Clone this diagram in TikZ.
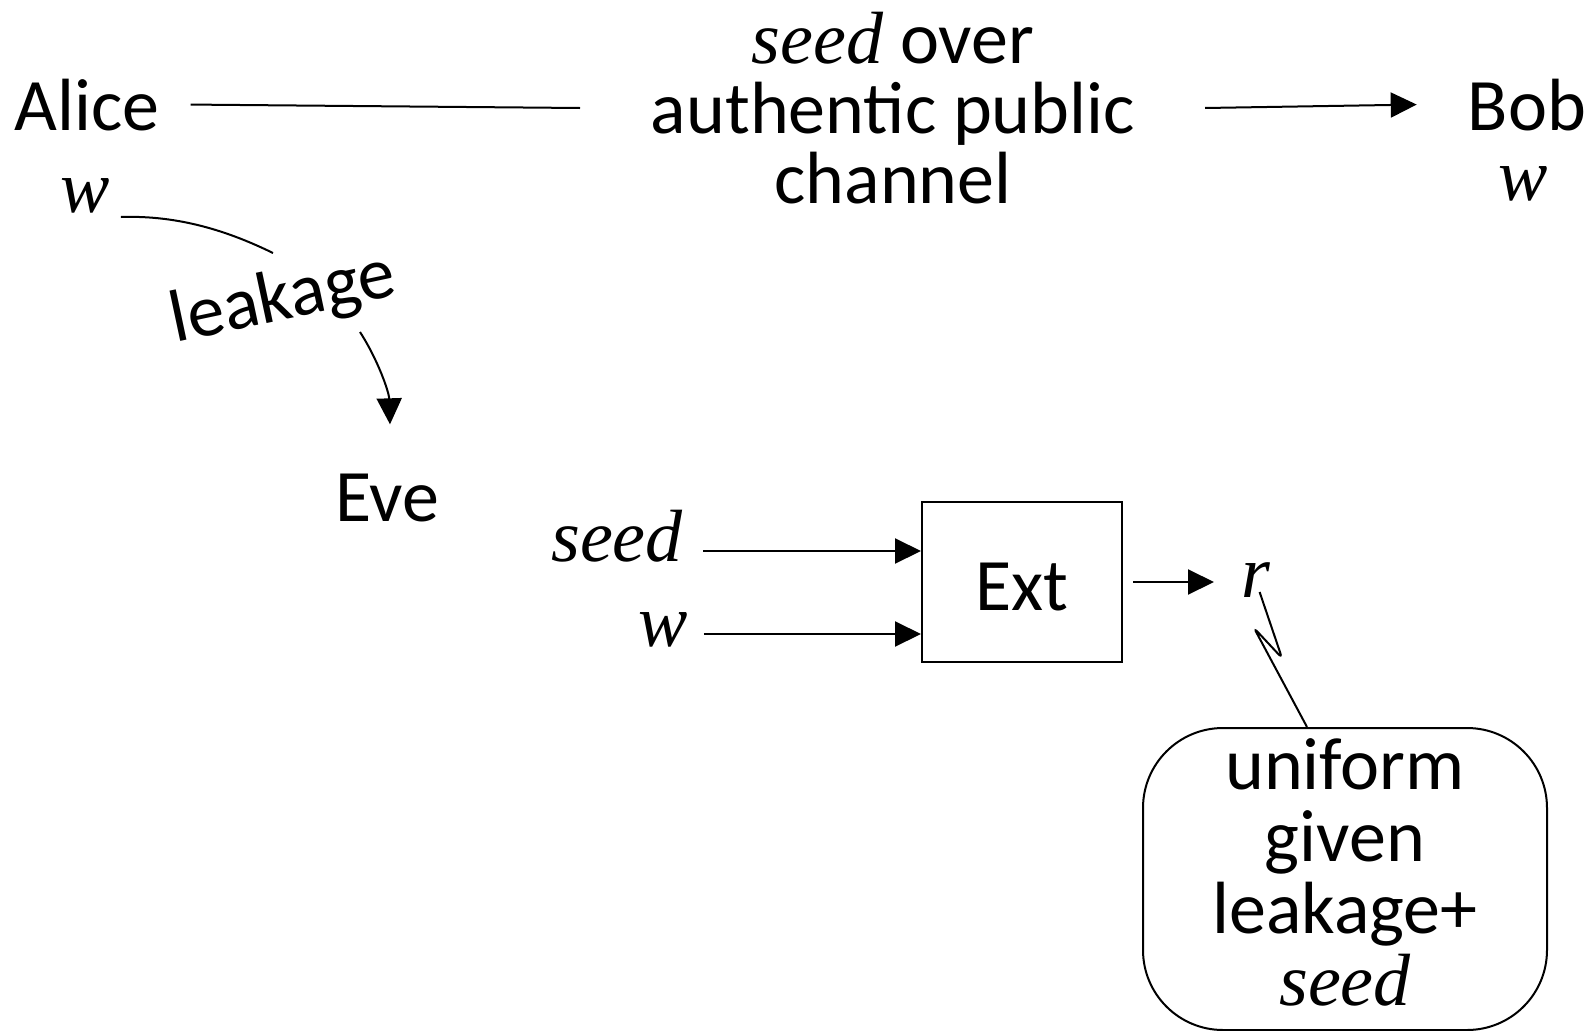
\documentclass[tikz,border=0pt]{standalone}
\usepackage{fontspec}
\setmainfont{Carlito}
\newfontfamily\tms{Liberation Serif}
\newcommand\var[1]{{\tms\itshape #1}}
\usetikzlibrary{arrows.meta}

\begin{document}
\begin{tikzpicture}[x=1pt,y=-1pt,
  every node/.style={inner sep=0pt, font=\fontsize{74}{71}\selectfont},
  lbl/.style={anchor=base},
  plain/.style={line width=2pt},
  conn/.style={line width=2pt, -{Triangle[length=26pt,width=25pt]}},
]
\useasboundingbox (0,0) rectangle (1591,1031);

% parties and public channel
\node[lbl] (alice) at (87,130) {Alice};
\node[lbl] (alicew) at (85,212) {\var{w}};
\node[lbl] (bob) at (1527,130) {Bob};
\node[lbl] (bobw) at (1523,200) {\var{w}};
\node[lbl, align=center, font=\fontsize{74}{70}\selectfont] (chan) at (893,203)
  {\var{seed} over\\authentic public\\channel};
\coordinate (chanL) at (580,108);
\coordinate (chanR) at (1205,108);
\draw[plain] ([xshift=31pt]alice.east) -- (chanL);
\draw[conn] (chanR) -- ([xshift=-51pt]bob.west);

% leakage to the eavesdropper
\node[rotate=12] (leak) at (283,300) {leakage};
\node[lbl] (eve) at (387,521) {Eve};
\coordinate (leakin) at (273,253);
\coordinate (leakout) at (360,332);
\draw[plain] ([shift={(11pt,-5pt)}]alicew.base east) .. controls (180,215) and (230,232) .. (leakin);
\draw[conn] (leakout) .. controls (378,360) and (389,392) .. ([shift={(3pt,49pt)}]eve.north);

% extractor
\node[lbl, anchor=base east] (seedin) at (683,561) {\var{seed}};
\node[lbl] (win) at (663,646) {\var{w}};
\node[draw, line width=2pt, minimum width=200pt, minimum height=160pt,
      text height=56pt, text depth=0pt] (ext) at (1022,582) {Ext};
\node[lbl] (r) at (1256,597) {\var{r}};
\draw[conn] ([shift={(20pt,10pt)}]seedin.base east) -- ([yshift=31pt]ext.west);
\draw[conn] ([shift={(16pt,12pt)}]win.base east) -- ([yshift=-52pt]ext.west);
\draw[conn] ([xshift=10pt]ext.east) -- ++(81,0);

% note on the output
\node[draw, line width=2pt, rounded corners=80pt, minimum width=404pt, minimum height=302pt] (note) at (1345,879) {};
\node[lbl, align=center, font=\fontsize{74}{72}\selectfont] (notetext) at (1345,1005)
  {uniform\\given\\leakage+\\\var{seed}};
\draw[plain, rounded corners=5pt] ([shift={(-11pt,5pt)}]r.base east) -- (1282,658) -- (1254,628) -- ([xshift=-38pt]note.north);
\end{tikzpicture}
\end{document}
